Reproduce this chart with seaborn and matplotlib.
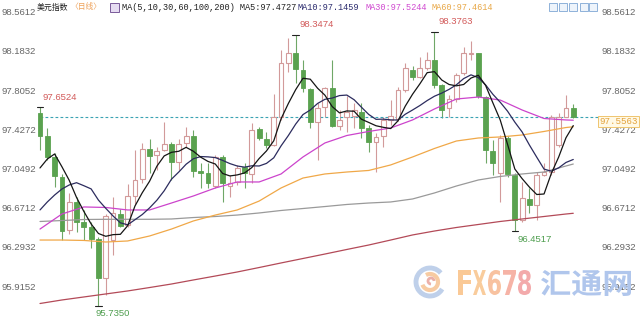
import numpy as np
import pandas as pd
import matplotlib
matplotlib.use("Agg")
import matplotlib.pyplot as plt
import seaborn as sns
from matplotlib.textpath import TextPath
from matplotlib.patches import PathPatch, Rectangle, Arc
from matplotlib.font_manager import FontProperties
from matplotlib.transforms import Affine2D, blended_transform_factory

# ---------------- data ----------------
opens = [97.591, 97.372, 97.167, 96.980, 96.466, 96.735, 96.541, 96.493, 96.376, 96.000,
         96.369, 96.620, 96.517, 96.797, 96.955, 97.244, 97.189, 97.237, 97.295, 97.124,
         97.302, 97.372, 97.037, 97.013, 96.890, 97.173, 96.890, 96.928, 97.076, 97.006,
         97.437, 97.343, 97.285, 97.553, 98.073, 98.170, 98.009, 97.822, 97.510, 97.649,
         97.832, 97.469, 97.555, 97.565, 97.603, 97.447, 97.317, 97.372, 97.527, 97.533,
         97.816, 98.009, 97.944, 98.025, 98.105, 97.864, 97.639, 97.726, 97.977, 98.163,
         98.170, 97.751, 97.228, 97.013, 97.350, 96.996, 96.562, 96.765, 96.707, 96.996,
         97.028, 97.285, 97.558, 97.639]
highs = [97.6524, 97.447, 97.208, 97.006, 96.820, 96.788, 96.658, 96.540, 96.400, 96.620,
         96.788, 96.670, 96.910, 97.237, 97.302, 97.340, 97.269, 97.510, 97.317, 97.340,
         97.462, 97.430, 97.109, 97.109, 97.189, 97.189, 96.996, 97.093, 97.112, 97.495,
         97.462, 97.414, 97.777, 98.202, 98.320, 98.3474, 98.105, 97.835, 97.687, 97.848,
         98.105, 97.623, 97.758, 97.690, 97.690, 97.478, 97.401, 97.555, 97.719, 97.845,
         98.076, 98.047, 98.134, 98.182, 98.3763, 97.873, 97.768, 97.979, 98.234, 98.291,
         98.173, 97.758, 97.334, 97.382, 97.372, 97.015, 96.932, 96.871, 97.028, 97.112,
         97.575, 97.593, 97.768, 97.681]
lows = [97.238, 97.141, 96.883, 96.370, 96.427, 96.443, 96.370, 96.290, 95.7350, 95.839,
        96.225, 96.490, 96.490, 96.720, 96.916, 97.013, 97.044, 97.230, 96.948, 97.044,
        97.266, 96.980, 96.868, 96.871, 96.868, 96.739, 96.787, 96.900, 96.871, 96.916,
        97.334, 97.253, 97.276, 97.527, 97.992, 97.880, 97.800, 97.447, 97.141, 97.558,
        97.459, 97.430, 97.414, 97.450, 97.353, 97.218, 97.028, 97.266, 97.478, 97.516,
        97.797, 97.912, 97.931, 98.009, 97.835, 97.545, 97.558, 97.700, 97.960, 98.105,
        97.738, 97.109, 96.996, 96.739, 96.977, 96.4517, 96.546, 96.630, 96.562, 96.987,
        96.996, 97.266, 97.555, 97.545]
closes = [97.372, 97.167, 96.987, 96.459, 96.739, 96.547, 96.493, 96.381, 96.000, 96.604,
          96.627, 96.508, 96.797, 96.949, 97.244, 97.182, 97.231, 97.295, 97.124, 97.295,
          97.372, 97.037, 97.013, 96.916, 97.173, 96.916, 96.916, 97.064, 97.013, 97.430,
          97.350, 97.285, 97.553, 98.073, 98.170, 98.016, 97.832, 97.510, 97.639, 97.832,
          97.469, 97.527, 97.603, 97.623, 97.447, 97.317, 97.366, 97.527, 97.565, 97.816,
          98.025, 97.944, 98.025, 98.105, 97.864, 97.623, 97.726, 97.960, 98.170, 98.176,
          97.758, 97.237, 97.115, 97.350, 97.006, 96.562, 96.771, 96.707, 96.996, 97.028,
          97.558, 97.555, 97.639, 97.5563]

ma5 = [97.064, 97.150, 97.199, 97.076, 96.945, 96.780, 96.645, 96.524, 96.432, 96.405,
       96.421, 96.424, 96.507, 96.697, 96.825, 96.936, 97.081, 97.180, 97.215, 97.225,
       97.263, 97.225, 97.168, 97.127, 97.102, 97.011, 96.987, 96.997, 97.016, 97.068,
       97.155, 97.228, 97.326, 97.538, 97.686, 97.819, 97.929, 97.920, 97.833, 97.766,
       97.656, 97.595, 97.614, 97.611, 97.534, 97.503, 97.471, 97.456, 97.444, 97.518,
       97.660, 97.775, 97.875, 97.983, 97.993, 97.912, 97.869, 97.856, 97.869, 97.931,
       97.958, 97.860, 97.691, 97.527, 97.293, 97.054, 96.961, 96.879, 96.808, 96.813,
       97.012, 97.169, 97.355, 97.4727]
ma10 = [96.659, 96.736, 96.803, 96.861, 96.900, 96.922, 96.893, 96.862, 96.754, 96.675,
        96.601, 96.535, 96.516, 96.565, 96.615, 96.679, 96.753, 96.844, 96.956, 97.025,
        97.100, 97.153, 97.174, 97.171, 97.164, 97.137, 97.106, 97.083, 97.072, 97.085,
        97.083, 97.108, 97.162, 97.277, 97.377, 97.487, 97.579, 97.623, 97.686, 97.726,
        97.738, 97.762, 97.767, 97.722, 97.650, 97.580, 97.533, 97.535, 97.528, 97.526,
        97.582, 97.623, 97.666, 97.714, 97.756, 97.786, 97.822, 97.866, 97.926, 97.962,
        97.935, 97.865, 97.774, 97.698, 97.612, 97.506, 97.411, 97.285, 97.168, 97.053,
        97.033, 97.065, 97.117, 97.1459]

ma_idx = [0, 3, 6, 9, 12, 15, 18, 21, 24, 27, 30, 33, 36, 39, 42, 45, 48, 51, 54, 57,
          60, 63, 66, 69, 72, 73]
ma30 = [96.475, 96.620, 96.688, 96.683, 96.659, 96.659, 96.726, 96.794, 96.871, 96.929,
        96.929, 97.006, 97.170, 97.305, 97.377, 97.416, 97.449, 97.527, 97.633, 97.729,
        97.748, 97.719, 97.623, 97.541, 97.527, 97.5244]
ma60 = [96.369, 96.369, 96.365, 96.350, 96.360, 96.408, 96.475, 96.553, 96.610, 96.659,
        96.745, 96.871, 96.967, 97.006, 97.025, 97.040, 97.093, 97.170, 97.252, 97.324,
        97.353, 97.363, 97.382, 97.416, 97.454, 97.4614]
ma100 = [96.548, 96.557, 96.567, 96.569, 96.569, 96.569, 96.572, 96.586, 96.596, 96.610,
         96.630, 96.654, 96.673, 96.692, 96.712, 96.726, 96.736, 96.765, 96.823, 96.890,
         96.948, 96.982, 97.006, 97.025, 97.083, 97.102]
ma200 = [95.757, 95.791, 95.820, 95.849, 95.878, 95.911, 95.945, 95.984, 96.022, 96.061,
         96.104, 96.148, 96.191, 96.234, 96.278, 96.321, 96.369, 96.418, 96.456, 96.490,
         96.519, 96.548, 96.572, 96.596, 96.620, 96.627]

y_ticks = [98.5612, 98.1832, 97.8052, 97.4272, 97.0492, 96.6712, 96.2932, 95.9152]
last_price = 97.5563

extremes = [  # (candle index, value, kind)
    (0, 97.6524, "high"), (35, 98.3474, "high"), (54, 98.3763, "high"),
    (65, 96.4517, "low"), (8, 95.7350, "low")]

title_name = "美元指数"
title_period = "〈日线〉"
ma_header = "MA(5,10,30,60,100,200)"
ma_labels = ["MA5:97.4727", "MA10:97.1459", "MA30:97.5244", "MA60:97.4614"]

# ---------------- style ----------------
sns.set_theme(style="white")
plt.rcParams['font.family'] = ['Liberation Sans', 'DejaVu Sans']

W, H = 640, 320
fig = plt.figure(figsize=(6.4, 3.2), dpi=100)
ax = fig.add_axes([0, 0, 1, 1])
px_per_idx = 7.305
x0_px = 40.0

UP = '#d29a9a'
DN = '#5aa24f'
DN_WICK = '#6fa767'

n = len(opens)
x = np.arange(n)
o = np.array(opens); c = np.array(closes); h = np.array(highs); l = np.array(lows)
up = c >= o

# wicks
ax.vlines(x[up], l[up], h[up], colors=UP, lw=0.8, zorder=2)
ax.vlines(x[~up], l[~up], h[~up], colors=DN_WICK, lw=0.8, zorder=2)
# bodies
bw = 0.66
hu = np.maximum(c[up] - o[up], 0.006)
ax.bar(x[up], hu, bottom=o[up], width=bw, facecolor='white', edgecolor=UP,
       linewidth=0.8, zorder=3)
hd = np.maximum(o[~up] - c[~up], 0.006)
ax.bar(x[~up], hd, bottom=c[~up], width=bw, facecolor=DN, edgecolor=DN,
       linewidth=0.6, zorder=3)

# dashed last price line
end_idx = (598 - x0_px) / px_per_idx
ax.plot([0, end_idx], [last_price, last_price], ls=(0, (2.5, 2)), color='#3aa3b3',
        lw=0.8, zorder=2.5)

# moving averages
full = pd.DataFrame({"idx": x, "MA5": ma5, "MA10": ma10})
part = pd.DataFrame({"idx": ma_idx, "MA30": ma30, "MA60": ma60,
                     "MA100": ma100, "MA200": ma200})
sns.lineplot(data=part, x="idx", y="MA200", ax=ax, color='#b34a58', lw=0.9, zorder=4)
sns.lineplot(data=part, x="idx", y="MA100", ax=ax, color='#9a9a9a', lw=0.9, zorder=4)
sns.lineplot(data=part, x="idx", y="MA60", ax=ax, color='#f0a848', lw=0.9, zorder=4)
sns.lineplot(data=part, x="idx", y="MA30", ax=ax, color='#cc44cc', lw=0.9, zorder=4)
sns.lineplot(data=full, x="idx", y="MA10", ax=ax, color='#2c2c5e', lw=0.9, zorder=4)
sns.lineplot(data=full, x="idx", y="MA5", ax=ax, color='#151515', lw=0.9, zorder=4)
ax.set_xlim(-x0_px / px_per_idx, (W - x0_px) / px_per_idx)
ax.set_ylim(95.5979, 98.6837)
ax.axis('off')

# y labels on both sides (inside)
bt = blended_transform_factory(ax.transAxes, ax.transData)
for v in y_ticks:
    ax.text(1 / W, v, f"{v:.4f}", transform=bt, ha='left', va='center',
            fontsize=6.8, color='#666666', zorder=6)
    ax.text(602 / W, v, f"{v:.4f}", transform=bt, ha='left', va='center',
            fontsize=6.8, color='#666666', zorder=6)

# last price tag
ax.text(599.5 / W, last_price, f"{last_price:.4f}", transform=bt, ha='left', va='top',
        fontsize=6.6, family='Liberation Mono', color='#e3a23c', zorder=8,
        bbox=dict(boxstyle='square,pad=0.15', fc='#fff9e6', ec='#efc56e', lw=0.7))

# extreme value annotations
for idx, val, kind in extremes:
    ax.plot([idx - 0.45, idx + 0.45], [val, val], color='#222222', lw=0.8, zorder=5)
    if kind == "high":
        col = '#d25a5a'
        dx, dy, va = 3.0, 4.5, 'bottom'
        if idx == 0:
            dx, dy = 2.0, 3.5
    else:
        col = '#4f9e4f'
        dx, dy, va = 2.0, -2.5, 'top'
        if idx == 8:
            dx = -2.0
    ax.annotate(f"{val:.4f}", xy=(idx, val), xytext=(dx, dy),
                textcoords='offset points', ha='left', va=va, fontsize=6.8,
                color=col, zorder=6)

# ---------------- overlay: header & watermark ----------------
ov = fig.add_axes([0, 0, 1, 1], facecolor='none')
ov.set_xlim(0, W); ov.set_ylim(0, H); ov.axis('off')

def Y(ypx):
    return H - ypx

ov.text(37, Y(7), title_name, fontsize=5.7, family=['Noto Sans CJK SC', 'DejaVu Sans'],
        color='#222222', va='center', ha='left')
ov.text(70, Y(7), title_period, fontsize=5.6, family=['Noto Sans CJK SC', 'DejaVu Sans'],
        color='#eea25a', va='center', ha='left')
ov.add_patch(Rectangle((110, Y(12)), 9, 9, fc='#e6dcf2', ec='#7a5a9a', lw=0.7))
ov.text(122, Y(7), ma_header + " " + ma_labels[0], fontsize=6.2,
        family='Liberation Mono', color='#222222', va='center', ha='left')
ov.text(298, Y(7), ma_labels[1], fontsize=6.2, family='Liberation Mono',
        color='#2c2c6e', va='center', ha='left')
ov.text(366, Y(7), ma_labels[2], fontsize=6.2, family='Liberation Mono',
        color='#d04ad0', va='center', ha='left')
ov.text(432, Y(7), ma_labels[3], fontsize=6.2, family='Liberation Mono',
        color='#e8a848', va='center', ha='left')
for xi in [553, 563, 573, 584, 593]:
    ov.add_patch(Rectangle((xi - 4, Y(11)), 8, 8, fc='#eef4fb', ec='#7ea6d4', lw=0.6))

def stretched(s, x_left, y_top, w, hgt, color, prop):
    tp = TextPath((0, 0), s, size=1, prop=prop)
    bb = tp.get_extents()
    tr = (Affine2D().translate(-bb.x0, -bb.y0)
          .scale(w / bb.width, hgt / bb.height)
          .translate(x_left, Y(y_top + hgt)))
    ov.add_patch(PathPatch(tr.transform_path(tp), fc=color, ec='none', zorder=9))

bold = FontProperties(family='DejaVu Sans', weight='bold')
letters = ["F", "X", "6", "7", "8"]
lcols = ['#fac996', '#f9cc9c', '#f8c2a0', '#f6b3a6', '#f3aaab']
for k, (ch, cc) in enumerate(zip(letters, lcols)):
    stretched(ch, 458 + k * 15, 270, 13, 25, cc, bold)
cjk = FontProperties(family='Noto Sans CJK SC', weight='bold')
stretched("汇通网", 541, 270, 90, 26, '#b0c6ec', cjk)

ov.add_patch(Arc((430, Y(282)), 28, 28, theta1=40, theta2=330, color='#bfd0ea', lw=3.5))
ov.add_patch(Arc((430, Y(282)), 16, 16, theta1=200, theta2=480, color='#f7cba2', lw=3))
ov.add_patch(Arc((431, Y(281)), 6, 6, theta1=0, theta2=270, color='#ebb0a8', lw=2))

fig.savefig("out.png", dpi=100)
